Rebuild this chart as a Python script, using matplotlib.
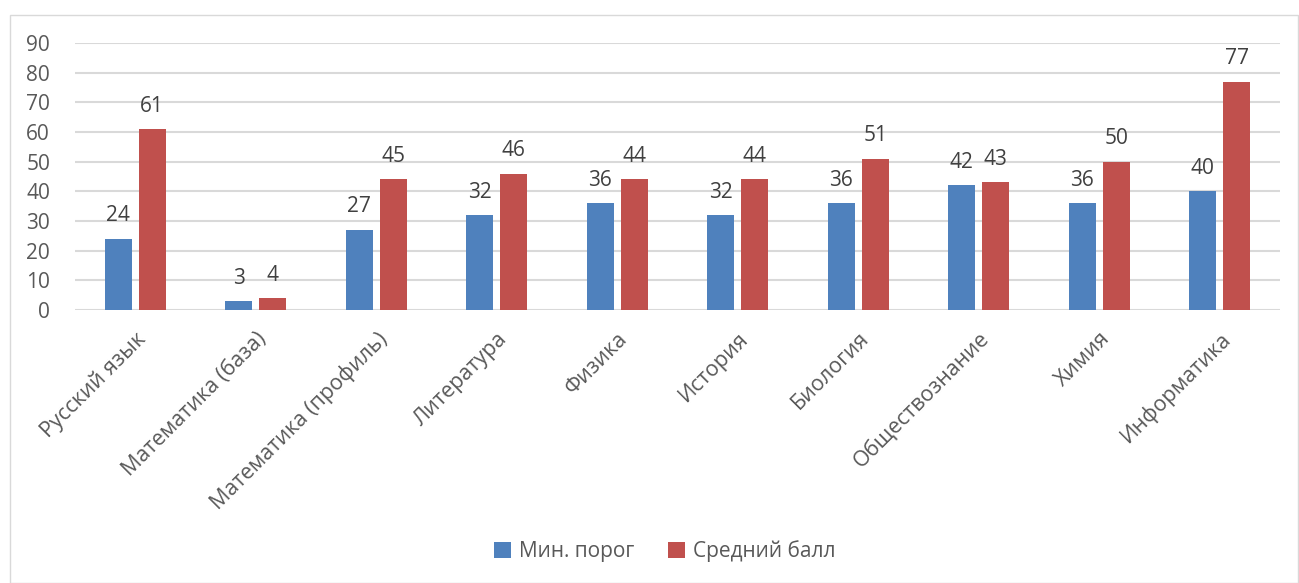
import matplotlib
matplotlib.use("Agg")
import matplotlib.pyplot as plt
import numpy as np
from matplotlib.patches import Rectangle

categories = ["Русский язык", "Математика (база)", "Математика (профиль)", "Литература",
              "Физика", "История", "Биология", "Обществознание", "Химия", "Информатика"]
min_threshold = [24, 3, 27, 32, 36, 32, 36, 42, 36, 40]
avg_score = [61, 4, 44, 46, 44, 44, 51, 43, 50, 77]
min_labels = ["24", "3", "27", "32", "36", "32", "36", "42", "36", "40"]
avg_labels = ["61", "4", "45", "46", "44", "44", "51", "43", "50", "77"]
series_names = ["Мин. порог", "Средний балл"]
yticks = [0, 10, 20, 30, 40, 50, 60, 70, 80, 90]

plt.rcParams['font.family'] = ['Open Sans', 'DejaVu Sans']

fig = plt.figure(figsize=(12.99, 5.83), dpi=100)
fig.patches.append(Rectangle((10/1299, 0), 1 - 10/1299 - 0.001, 1 - 15/583, transform=fig.transFigure,
                             fill=False, edgecolor="#D9D9D9", linewidth=1))
ax = fig.add_axes([75/1299, 1 - 310/583, (1280 - 75)/1299, (310 - 43)/583])

x = np.arange(len(categories))
w = 0.224
off = 0.141
blue = "#4F81BD"
red = "#C0504D"
b1 = ax.bar(x - off, min_threshold, w, color=blue, label=series_names[0], zorder=3)
b2 = ax.bar(x + off, avg_score, w, color=red, label=series_names[1], zorder=3)

fs = 15
for rect, lab in zip(b1, min_labels):
    ax.annotate(lab, (rect.get_x() + rect.get_width()/2, rect.get_height()), xytext=(0, 9),
                textcoords="offset points", ha="center", va="bottom", fontsize=fs, color="#404040")
for rect, lab in zip(b2, avg_labels):
    ax.annotate(lab, (rect.get_x() + rect.get_width()/2, rect.get_height()), xytext=(0, 9),
                textcoords="offset points", ha="center", va="bottom", fontsize=fs, color="#404040")

ax.set_xlim(-0.5, len(categories) - 0.5)
ax.set_ylim(0, 90)
ax.set_yticks(yticks)
ax.tick_params(axis="y", length=0, labelsize=fs, labelcolor="#595959", pad=18)
ax.set_xticks(x)
ax.set_xticklabels(categories, rotation=45, ha="right", rotation_mode="anchor")
ax.tick_params(axis="x", length=0, labelsize=15.5, labelcolor="#595959", pad=13)
ax.grid(axis="y", color="#D9D9D9", linewidth=1.5, zorder=0)
for s in ax.spines.values():
    s.set_visible(False)

fig.legend(handles=[b1, b2], labels=series_names, loc="center", ncol=2,
           bbox_to_anchor=(665/1299, 1 - 551/583), frameon=False, fontsize=fs,
           handlelength=0.8, handleheight=0.8, handletextpad=0.4, columnspacing=1.6,
           labelcolor="#595959")

fig.savefig("out.png", dpi=100)
